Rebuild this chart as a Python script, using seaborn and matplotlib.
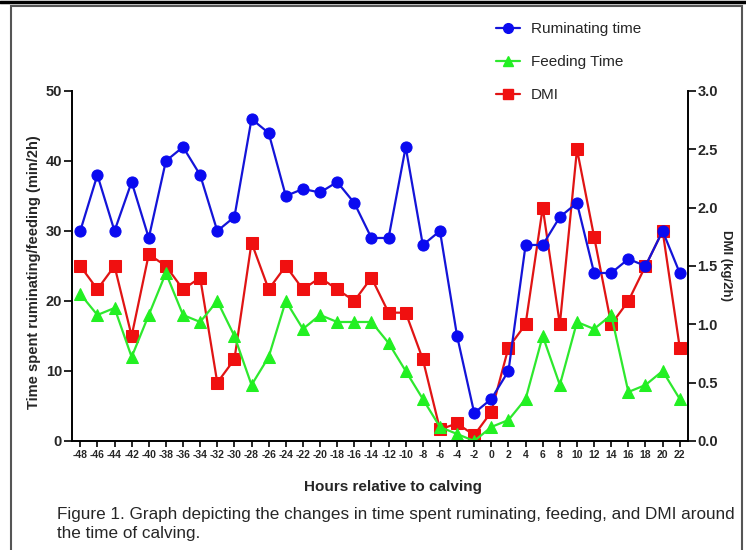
import pandas as pd
import seaborn as sns
import matplotlib.pyplot as plt
from matplotlib.lines import Line2D
from matplotlib.patches import Rectangle

# datos
horas = list(range(-48, 24, 2))
rumia = [30, 38, 30, 37, 29, 40, 42, 38, 30, 32, 46, 44, 35, 36, 35.5, 37, 34, 29,
         29, 42, 28, 30, 15, 4, 6, 10, 28, 28, 32, 34, 24, 24, 26, 25, 30, 24]
alimento = [21, 18, 19, 12, 18, 24, 18, 17, 20, 15, 8, 12, 20, 16, 18, 17, 17, 17,
            14, 10, 6, 2, 1, 0, 2, 3, 6, 15, 8, 17, 16, 18, 7, 8, 10, 6]
dmi = [1.5, 1.3, 1.5, 0.9, 1.6, 1.5, 1.3, 1.4, 0.5, 0.7, 1.7, 1.3, 1.5, 1.3, 1.4, 1.3,
       1.2, 1.4, 1.1, 1.1, 0.7, 0.1, 0.15, 0.05, 0.25, 0.8, 1.0, 2.0, 1.0, 2.5, 1.75,
       1.0, 1.2, 1.5, 1.8, 0.8]
nombres = ["Ruminating time", "Feeding Time", "DMI"]

df = pd.DataFrame({"Hora": horas, "Rumia": rumia, "Alimento": alimento, "DMI": dmi})

sns.set_style("ticks")
plt.rcParams["font.family"] = ["Liberation Sans", "DejaVu Sans"]
plt.rcParams["axes.unicode_minus"] = False

azul = "#1414d8"
verde = "#2ee82e"
rojo = "#e01414"

fig = plt.figure(figsize=(7.46, 5.5), dpi=100)
ax = fig.add_axes([0.0961, 0.1982, 0.826, 0.6364])
ax2 = ax.twinx()

# DMI en el eje derecho (debajo)
sns.lineplot(data=df, x="Hora", y="DMI", ax=ax2, color=rojo, marker="s",
             markersize=8, markeredgecolor="#f01010", markerfacecolor="#f01010",
             linewidth=1.6, legend=False)
sns.lineplot(data=df, x="Hora", y="Rumia", ax=ax, color=azul, marker="o",
             markersize=8, markeredgecolor="#0a0af0", markerfacecolor="#0a0af0",
             linewidth=1.6, legend=False)
sns.lineplot(data=df, x="Hora", y="Alimento", ax=ax, color=verde, marker="^",
             markersize=8, markeredgecolor="#22f022", markerfacecolor="#22f022",
             linewidth=1.6, legend=False)

ax.set_zorder(ax2.get_zorder() + 1)
ax.patch.set_visible(False)

ax.set_xlim(-49, 22.95)
ax.set_ylim(0, 50)
ax2.set_ylim(0, 3.0)
ax.set_xticks(horas)
ax.set_yticks([0, 10, 20, 30, 40, 50])
ax2.set_yticks([0, 0.5, 1.0, 1.5, 2.0, 2.5, 3.0])
ax2.set_yticklabels([f"{v:.1f}" for v in ax2.get_yticks()])

for a in (ax, ax2):
    a.spines["top"].set_visible(False)
    for s in a.spines.values():
        s.set_linewidth(1.4)
        s.set_color("black")
ax.spines["right"].set_visible(False)
ax2.spines["left"].set_visible(False)
ax2.spines["bottom"].set_visible(False)

ax.tick_params(axis="x", labelsize=7.5, length=4.5, width=1.4, pad=2)
ax.tick_params(axis="y", labelsize=10.5, length=6, width=1.4, pad=1)
ax2.tick_params(axis="y", labelsize=10.5, length=6, width=1.4, pad=1)
for lab in ax.get_xticklabels() + ax.get_yticklabels() + ax2.get_yticklabels():
    lab.set_fontweight("bold")

ax.set_xlabel("Hours relative to calving", fontsize=11, fontweight="bold")
ax.xaxis.set_label_coords(0.521, -0.112)
ax.set_ylabel("Time spent ruminating/feeding (min/2h)", fontsize=10.5, fontweight="bold")
ax.yaxis.set_label_coords(-0.049, 0.483)
ax2.set_ylabel("DMI (kg/2h)", fontsize=9.5, fontweight="bold", rotation=270, va="bottom")
ax2.yaxis.set_label_coords(1.052, 0.50)

# leyenda arriba a la derecha
handles = [
    Line2D([], [], color=azul, marker="o", markersize=7, markerfacecolor="#0a0af0",
           markeredgecolor="#0a0af0", linewidth=1.6),
    Line2D([], [], color=verde, marker="^", markersize=7, markerfacecolor="#22f022",
           markeredgecolor="#22f022", linewidth=1.6),
    Line2D([], [], color=rojo, marker="s", markersize=7, markerfacecolor="#f01010",
           markeredgecolor="#f01010", linewidth=1.6),
]
fig.legend(handles, nombres, loc="upper left", bbox_to_anchor=(0.654, 0.974),
           frameon=False, fontsize=11, borderpad=0, labelspacing=1.25,
           handlelength=1.6, handletextpad=0.7)

# pie de figura
fig.text(0.076, 0.079, "Figure 1. Graph depicting the changes in time spent ruminating, "
         "feeding, and DMI around\nthe time of calving.", fontsize=12.3, va="top",
         ha="left", linespacing=1.4)

# marco
fig.add_artist(Line2D([0, 1], [0.996, 0.996], color="black", linewidth=2.5))
fig.add_artist(Rectangle((0.0147, -0.02), 0.98, 1.009, fill=False,
                         edgecolor="#555555", linewidth=1.5))

fig.savefig("out.png", dpi=100)
